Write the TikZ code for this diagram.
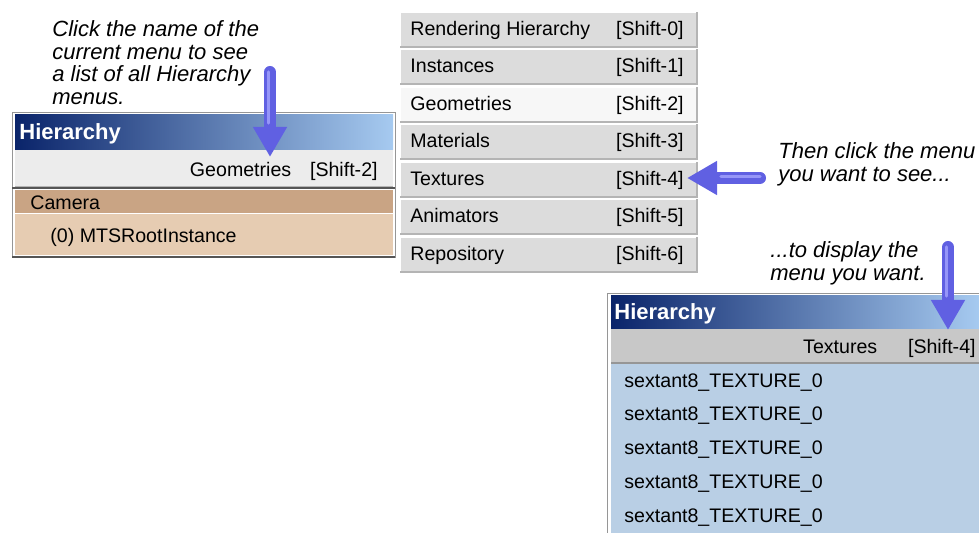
\documentclass[tikz,border=0pt]{standalone}
\usepackage{fontspec}
\setmainfont{Liberation Sans}
\usepackage{tikz}
\usetikzlibrary{positioning,calc,arrows.meta}

\definecolor{titledark}{RGB}{10,36,106}
\definecolor{titlelight}{RGB}{166,202,240}
\definecolor{rowgray}{RGB}{236,236,236}
\definecolor{camtan}{RGB}{201,164,132}
\definecolor{roottan}{RGB}{230,204,178}
\definecolor{menugray}{RGB}{220,220,220}
\definecolor{menuhi}{RGB}{247,247,247}
\definecolor{menuedge}{RGB}{180,180,180}
\definecolor{curgray}{RGB}{200,200,200}
\definecolor{listblue}{RGB}{185,207,229}
\definecolor{arrowblue}{RGB}{96,96,226}
\definecolor{arrowlight}{RGB}{150,150,248}
\definecolor{framegray}{RGB}{150,150,150}
\definecolor{darkline}{RGB}{85,85,85}

\begin{document}
\begin{tikzpicture}[
    x=0.5pt, y=-0.5pt,
    menutext/.style={font=\fontsize{9.8}{12}\selectfont, inner sep=0pt, text height=7.2pt, text depth=2pt},
    note/.style={font=\fontsize{11}{11.4}\selectfont\itshape, align=left, anchor=north west, inner sep=0pt},
    titletext/.style={font=\fontsize{11}{13}\selectfont\bfseries, text=white, anchor=west, inner sep=0pt},
    bigarrow/.style={draw=arrowblue, line width=6pt, line cap=round, -{Triangle[width=16pt,length=15pt]}},
    hilite/.style={draw=arrowlight, line width=1.6pt, line cap=round}
]
    \useasboundingbox (0,0) rectangle (979,533);

    % Current hierarchy menu
    \fill[white] (12,112) rectangle (395,258);
    \draw[framegray] (12,258) -- (12,112) -- (395,112) -- (395,258);
    \shade[left color=titledark, right color=titlelight] (15,115) rectangle (393,150);
    \node [titletext] (title1) at (19,134) {Hierarchy};
    \fill[rowgray] (15,150) rectangle (393,186);
    \draw[menuedge] (15,186) -- (393,186);
    \node [menutext, anchor=east] (curkey) at (378,171) {[Shift-2]};
    \node [menutext, anchor=east, left=9pt of curkey] (curname) {Geometries};
    \draw[darkline, line width=1.2pt] (12,188) -- (395,188);
    \fill[camtan] (15,190) rectangle (393,213);
    \node [menutext, anchor=west] (camera) at (30,204) {Camera};
    \fill[roottan] (15,214) rectangle (393,255);
    \node [menutext, anchor=west] (root) at (50,237) {(0) MTSRootInstance};
    \draw[darkline, line width=1.2pt] (12,257) -- (395,257);

    % Menu list
    \foreach \i/\name/\col in {0/Rendering Hierarchy/menugray, 1/Instances/menugray, 2/Geometries/menuhi,
        3/Materials/menugray, 4/Textures/menugray, 5/Animators/menugray, 6/Repository/menugray} {
        \pgfmathsetmacro{\ytop}{12+37.5*\i}
        \fill[\col] (400,\ytop) rectangle (697,{\ytop+35});
        \draw[white] (400,{\ytop+35}) -- (400,\ytop) -- (697,\ytop);
        \draw[menuedge, line width=1pt] (400,{\ytop+35}) -- (697,{\ytop+35}) -- (697,\ytop);
        \node [menutext, anchor=west] (item\i) at (410,{\ytop+18}) {\name};
        \node [menutext, anchor=east] (key\i) at (684,{\ytop+18}) {[Shift-\i]};
    }

    % Resulting hierarchy menu
    \draw[framegray] (607,533) -- (607,293) -- (979,293);
    \fill[white] (608,294) rectangle (979,533);
    \shade[left color=titledark, right color=titlelight] (611,296) rectangle (979,329);
    \node [titletext] (title2) at (614,314) {Hierarchy};
    \fill[curgray] (611,329) rectangle (979,362);
    \node [menutext, anchor=east] (newkey) at (976,348) {[Shift-4]};
    \node [menutext, anchor=east, left=15pt of newkey] (newname) {Textures};
    \draw[framegray, line width=1pt] (611,363) -- (979,363);
    \fill[listblue] (611,364) rectangle (979,533);
    \foreach \j in {0,...,4} {
        \node [menutext, anchor=west] (tex\j) at (624,{382+33.8*\j}) {sextant8\_TEXTURE\_0};
    }

    % Notes
    \node [note] (note1) at (52,20) {Click the name of the\\current menu to see\\a list of all Hierarchy\\menus.};
    \node [note] (note2) at (778,142) {Then click the menu\\you want to see...};
    \node [note] (note3) at (770,241) {...to display the\\menu you want.};

    % Arrows
    \coordinate (arr1s) at (270,72);
    \coordinate (arr1e) at (270,157);
    \coordinate (arr2s) at (760,178);
    \coordinate (arr2e) at (687,178);
    \coordinate (arr3s) at (948,247);
    \coordinate (arr3e) at (948,330);
    \draw[bigarrow] (arr1s) -- (arr1e);
    \draw[bigarrow] (arr2s) -- (arr2e);
    \draw[bigarrow] (arr3s) -- (arr3e);
    \draw[hilite, transform canvas={xshift=-0.8pt}, shorten >=17pt] (arr1s) -- (arr1e);
    \draw[hilite, transform canvas={yshift=0.8pt}, shorten >=17pt] (arr2s) -- (arr2e);
    \draw[hilite, transform canvas={xshift=-0.8pt}, shorten >=17pt] (arr3s) -- (arr3e);
\end{tikzpicture}
\end{document}
